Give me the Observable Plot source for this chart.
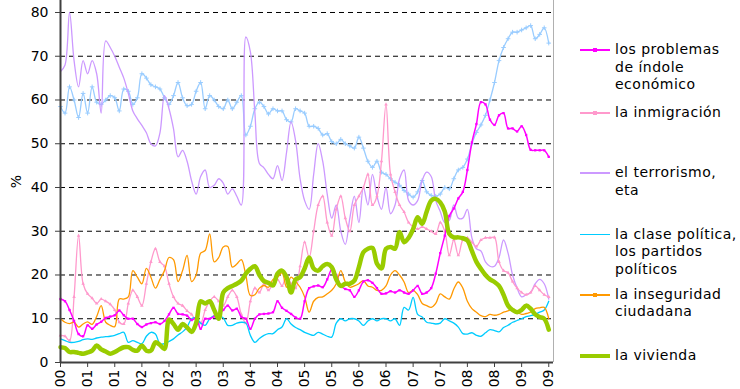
<!DOCTYPE html>
<html><head><meta charset="utf-8">
<script src="https://cdn.jsdelivr.net/npm/d3@7"></script>
<script src="https://cdn.jsdelivr.net/npm/@observablehq/plot@0.6"></script>
<style>
body{margin:0;background:#fff;font-family:"DejaVu Sans",sans-serif;}
#wrap{position:relative;width:740px;height:389px;overflow:hidden;}
.item{position:absolute;left:580px;font-size:14px;letter-spacing:0.5px;line-height:17.5px;color:#000;}
.swatch{position:absolute;left:0;width:30px;}
.mk{position:absolute;left:13px;width:4px;height:4px;}
.label{position:absolute;left:35px;white-space:nowrap;}
</style></head>
<body><div id="wrap"></div>
<script>
const xTickLabels = ["00","01","01","02","02","03","03","04","04","05","05","06","06","07","07","08","08","09","09"];
const yTicks = [0,10,20,30,40,50,60,70,80];

const paro = [
58.5,57,63,60,56,61.5,57,63,59.5,59,
60,61,60.5,57.5,62.5,62,59,60.5,66,65,
63.5,63,62.5,60.5,59,61,64,60.5,58.7,59,
62,64,58,61,60,58.5,58,60,58,59.5,
61,52,54,58,59.5,58.5,56.8,58,57.5,57.5,
55.5,55,58,57.5,57,54,54,53.5,52,52.3,
50.5,50,51,50,49.5,49,51.5,49,46,44.6,
46,43.5,43,42,41.2,40.5,39.3,38.5,37.8,39,
41.6,39,38.2,38,38.5,40,39.7,42,44,44.6,
46.5,50,52.6,54.3,56.5,60,64,69,72,74,
75.5,75.5,76,76.5,77,74,75,76.5,73];

const terrorismo = [
66.5,68,80,69,63,69,66,69,66,57,
73.5,72,70,67.5,65,61.5,57.5,55.7,54.2,52.5,
50,49.5,52.5,61,58,53.4,47,48.5,46,41.5,
38.5,42.5,44,40,40.5,42,41,38.5,39.7,38,
36,74.4,71,57,45.5,44.5,43,42,45,41.6,
48,55,50.7,42,37,35,43,50,46,38.5,
33,36,30,27,33,38,32,40,36,43,
38,35,40,34,36,42,44,37,36,37,
41.6,43.5,42.5,37,34.5,32,32.5,36,33,33,
35,28.5,26,25.5,23,22,22,24,28,25,
20,17,15,15.5,16,18,19,18,14.5];

const inmigracion = [
6.2,6,5,15,29,18,15.7,14.7,13.5,14.5,
14,13.3,12,9.2,8.8,13.5,16.5,15,13,18,
23,26,23,22,18,15,13.5,13,11.8,11,
9.5,9,12,14,15,14,13,15,16.5,15,
11,9,14,17,16,18,16.5,18,19,17.5,
20,18,17,22,27.5,24,30,36,38,32,
29,35,38,33,30,36,38,40,43,36,
38,46,59,43,39,36,34.4,32,31,30.5,
31,30.5,30,29.4,32,30,24.5,28,24.5,28,
28.5,27.5,26.5,28,28.5,28.5,28.6,23,21,20.5,
18.5,17,16,15.5,16,17.5,16.5,15.5,15];

const economicos = [
14.5,14,12,9.5,6.5,6,8.5,7.7,8.7,9.3,
10.2,10.5,10.8,11.9,10.8,10,10,8.8,8.1,8.7,
9,9.2,8.8,9.5,11,12.5,11.1,11,10.7,9.7,
10.2,7.7,10,10,10.5,11,12,13,11.9,12.3,
10.4,10,7.7,10,11,11.1,11.2,11.5,14,12.5,
11.8,11.1,10.3,10,14,17,17.4,17.6,17.2,19,
21.2,20,17.5,16.8,16.5,15,16.5,18.5,18.8,18.2,
17,15.7,15.8,16.3,16,16.5,16,15.7,16.5,17.5,
15.7,16,17,20.3,25,29,33.5,35.2,37.5,39,
44,50.3,54.5,59.5,59,55.5,54.3,56.5,57,53.5,
53.5,52.8,54,52,48.6,48.5,48.5,48.5,47];

const clasePolitica = [
5.4,5,4.6,4.6,4.8,5.2,5.4,5.3,5.6,5.8,
5.9,6,6.2,6.6,6.9,4.6,5,4.6,4.3,6,
6.9,6.5,4.3,4.3,4.8,5.4,6.3,7,8.1,10,
10.2,9,8.5,10,10.7,10.7,10.2,8.5,8.5,9,
9.2,9,6.2,4.6,5.5,6.2,6.6,6.6,7.5,8.1,
10,8.8,8,7.5,6.9,6.5,6.2,6.9,6.5,6,
5.8,9,10,9.5,10,10,9.5,8.5,9.5,10,
9.5,10,10,9.5,10,8.5,12.6,12,14.9,11,
10.4,9.2,9,8.8,9,10,9.5,9,8.1,6.6,
6.5,6.8,6.2,6,6.8,7.5,7.3,7,8,8.5,
9.2,9.6,10,10.5,10.7,11,11.5,12,14];

const inseguridad = [
10,9.2,8.9,9.2,8.1,8.8,9.3,8.7,10.5,13,
9.2,8.5,8.2,14.5,14.5,15,21,19.5,18,21.5,
19.5,17,19,21,24,23.5,18.5,21,24.5,18.5,
20,25,25.6,29.4,23,24,26.4,26.5,21.8,22.5,
23.5,19.9,15.3,15.5,17,17.6,17.2,19,19.5,20.5,
17.2,19.5,18.5,17.2,15,11.5,14,14.9,15,15.7,
16.5,18,21,18.4,17.2,17.5,18,18.7,17.5,17.2,
16.5,16.5,17.5,20,21,20,18.4,16,16.5,15.5,
13.5,13,12.6,13.5,15.7,15,14.5,16.8,18.4,17,
14,12.3,11.5,10.7,10.5,11,10.8,11,11.5,11.8,
12.3,11.5,11,11.2,11.5,12.3,12.5,12.6,10];

const vivienda = [
3.5,3.3,2.4,2.4,2.2,2,2.3,2.7,3.9,3,
2.5,2,2.4,3,3.5,3.5,2.9,2.7,3.9,2.7,
2.7,4.6,4,3.1,9.8,8.8,7.5,8.8,8,7,
9,14,13.5,14,12,10,16,17,17.5,18,
18.7,20.3,21.4,22,20,18.6,18.2,17.6,20.3,21,
19.5,16,19,19.5,21.5,24,21.5,21,22,22.5,
21.8,19,17.5,18,18,18.7,21.8,25.2,26,26.2,
22.6,21.5,26,26.4,26,29.8,27.5,28.5,30.5,33.2,
31.7,34.5,37,37.4,36.6,34.5,29.4,28.6,28.6,28.4,
27.9,25.5,23,21.4,20,19,18.4,17.5,15.5,13,
12,11.5,12,13,12.3,11,10.4,10,7.5];

const legendLabels = [
  ["los problemas","de índole","económico"],
  ["la inmigración"],
  ["el terrorismo,","eta"],
  ["la clase política,","los partidos","políticos"],
  ["la inseguridad","ciudadana"],
  ["la vivienda"]
];

const C = {paro:"#99ccff", terr:"#cc99ff", inm:"#ff99cc", eco:"#ff00ff", clase:"#00ccff", inseg:"#ff9900", viv:"#99cc00"};
const ix = (d, i) => i;
const xTicks = xTickLabels.map((_, i) => i * 6);
const curve = "catmull-rom";

const chart = Plot.plot({
  width: 740, height: 389,
  marginLeft: 60, marginRight: 187, marginTop: 0, marginBottom: 27,
  style: {fontFamily: "DejaVu Sans", fontSize: "14px", background: "white", color: "#000"},
  x: {type: "linear", domain: [0, 109.05]},
  y: {type: "linear", domain: [0, 82.74]},
  marks: [
    Plot.ruleY(yTicks.filter(d => d > 0), {stroke: "#000", strokeDasharray: "5,4", strokeWidth: 1}),
    Plot.lineY(paro, {x: ix, y: d => d, stroke: C.paro, strokeWidth: 1.3, curve}),
    Plot.dot(paro, {x: ix, y: d => d, symbol: "plus", r: 1.6, stroke: C.paro, strokeWidth: 1}),
    Plot.lineY(terrorismo, {x: ix, y: d => d, stroke: C.terr, strokeWidth: 1.3, curve}),
    Plot.lineY(inmigracion, {x: ix, y: d => d, stroke: C.inm, strokeWidth: 1.3, curve}),
    Plot.dot(inmigracion, {x: ix, y: d => d, symbol: "triangle", r: 1.3, fill: C.inm}),
    Plot.lineY(clasePolitica, {x: ix, y: d => d, stroke: C.clase, strokeWidth: 1.3, curve}),
    Plot.lineY(inseguridad, {x: ix, y: d => d, stroke: C.inseg, strokeWidth: 1.3, curve}),
    Plot.lineY(economicos, {x: ix, y: d => d, stroke: C.eco, strokeWidth: 1.5, curve}),
    Plot.dot(economicos, {x: ix, y: d => d, symbol: "square", r: 1.3, fill: C.eco}),
    Plot.lineY(vivienda, {x: ix, y: d => d, stroke: C.viv, strokeWidth: 4.5, curve, strokeLinejoin: "round"}),
    Plot.ruleX([109.05], {stroke: "#b0b0b0", strokeWidth: 1}),
    Plot.ruleX([0], {stroke: "#404040", strokeWidth: 2}),
    Plot.ruleY([0], {stroke: "#404040", strokeWidth: 2}),
    Plot.axisY({ticks: yTicks, tickSize: 5, tickPadding: 7, stroke: "#404040", label: "%", labelAnchor: "center", labelArrow: "none", labelOffset: 49, fill: "#000"}),
    Plot.axisX({ticks: xTicks, tickFormat: (d, i) => xTickLabels[i], tickRotate: -90, tickSize: 5, tickPadding: 2, stroke: "#404040", label: null, fill: "#000"})
  ]
});

const wrap = document.getElementById("wrap");
wrap.appendChild(chart);

const legendColors = [C.eco, C.inm, C.terr, C.clase, C.inseg, C.viv];
const legendWidths = [2, 2, 1.5, 1.5, 2, 4];
const legendMarks = [true, true, false, false, true, false];
const legendCenters = [50, 112.5, 173, 234.5, 294.5, 356];
legendLabels.forEach((lines, k) => {
  const it = document.createElement("div");
  it.className = "item";
  it.style.top = (legendCenters[k] - 8.75) + "px";
  const sw = document.createElement("div");
  sw.className = "swatch";
  sw.style.background = legendColors[k];
  sw.style.height = legendWidths[k] + "px";
  sw.style.top = (8.75 - legendWidths[k] / 2) + "px";
  it.appendChild(sw);
  if (legendMarks[k]) {
    const m = document.createElement("div");
    m.className = "mk";
    m.style.background = legendColors[k];
    m.style.top = (8.75 - 2) + "px";
    it.appendChild(m);
  }
  const lb = document.createElement("div");
  lb.className = "label";
  lb.innerHTML = lines.join("<br>");
  it.appendChild(lb);
  wrap.appendChild(it);
});
</script>
</body></html>
